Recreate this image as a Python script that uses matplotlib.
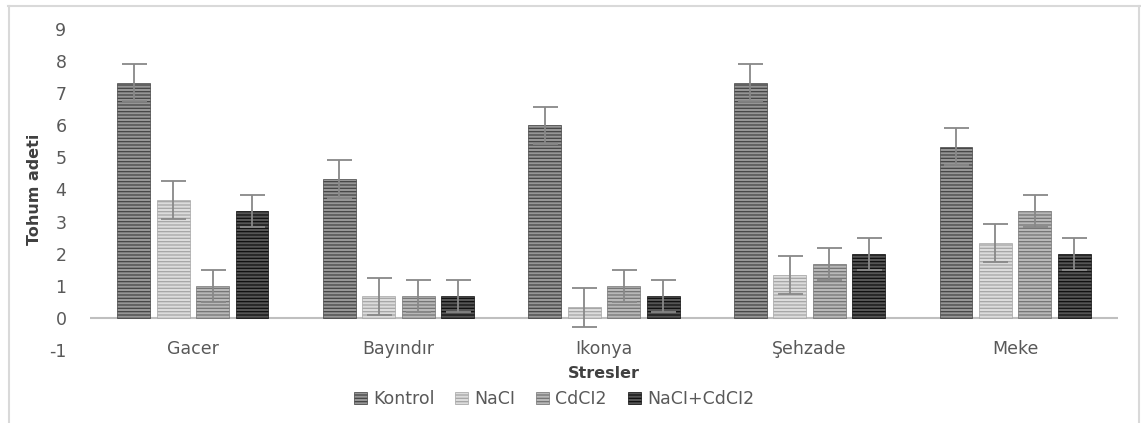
import numpy as np
import matplotlib.pyplot as plt
from matplotlib.lines import Line2D

# ==========================================
# Data
# ==========================================

categories = ["Gacer", "Bayındır", "Ikonya", "Şehzade", "Meke"]
series = ["Kontrol", "NaCI", "CdCI2", "NaCI+CdCI2"]

kontrol = [7.33, 4.33, 6.0, 7.33, 5.33]
nacl = [3.67, 0.67, 0.33, 1.33, 2.33]
cdcl2 = [1.0, 0.67, 1.0, 1.67, 3.33]
mix = [3.33, 0.67, 0.67, 2.0, 2.0]

err_kontrol = [0.58, 0.58, 0.58, 0.58, 0.58]
err_nacl = [0.6, 0.58, 0.6, 0.6, 0.6]
err_cdcl2 = [0.5, 0.5, 0.5, 0.5, 0.5]
err_mix = [0.5, 0.5, 0.5, 0.5, 0.5]

values = [kontrol, nacl, cdcl2, mix]
errors = [err_kontrol, err_nacl, err_cdcl2, err_mix]

# face colour, stripe colour
faces = ["#969696", "#dcdcdc", "#b8b8b8", "#555555"]
stripes = ["#444444", "#a5a5a5", "#747474", "#0f0f0f"]

plt.rcParams['font.family'] = ['DejaVu Sans']
plt.rcParams['axes.unicode_minus'] = False
plt.rcParams['hatch.linewidth'] = 0.9

# ==========================================
# Figure
# ==========================================

fig = plt.figure(figsize=(11.41, 4.23), dpi=100)
ax = fig.add_axes([90 / 1141, 1 - 350 / 423, 1028 / 1141, 321 / 423])

x = np.arange(len(categories))
pitch = 0.192
width = 0.16

for i in range(len(series)):
    pos = x + (i - 1.5) * pitch
    ax.bar(
        pos,
        values[i],
        width,
        color=faces[i],
        edgecolor=stripes[i],
        hatch="-----",
        linewidth=0.5,
        label=series[i],
        zorder=2
    )
    ax.errorbar(
        pos,
        values[i],
        yerr=errors[i],
        fmt="none",
        ecolor="#888888",
        elinewidth=1.3,
        capsize=9,
        capthick=1.3,
        zorder=3
    )

ax.set_xlim(-0.5, len(categories) - 0.5)
ax.set_ylim(-1, 9)
ax.set_yticks(range(-1, 10))
ax.axhline(0, color="#bfbfbf", linewidth=1.5, zorder=1)

for s in ax.spines.values():
    s.set_visible(False)

ax.tick_params(axis="both", length=0, colors="#595959", labelsize=12.5)
ax.tick_params(axis="y", pad=17)
ax.set_xticks(x)
ax.set_xticklabels(categories)
ax.tick_params(axis="x", pad=-7.5)

ax.set_ylabel("Tohum adeti", fontsize=11.5, fontweight="bold", color="#404040", labelpad=5)

fig.text(604 / 1141, 1 - 373 / 423, "Stresler", ha="center", va="center",
         fontsize=11.5, fontweight="bold", color="#404040")

ax.legend(
    loc="center",
    bbox_to_anchor=(554 / 1141, 1 - 399 / 423),
    bbox_transform=fig.transFigure,
    ncol=4,
    frameon=False,
    fontsize=12.5,
    handlelength=0.75,
    handleheight=0.75,
    handletextpad=0.35,
    columnspacing=1.2,
    labelcolor="#595959",
    borderpad=0
)

# outer chart border
for coords in [([8 / 1141, 1140 / 1141], [1 - 6 / 423, 1 - 6 / 423]),
               ([9 / 1141, 9 / 1141], [0, 1 - 6 / 423]),
               ([1139 / 1141, 1139 / 1141], [0, 1 - 6 / 423])]:
    fig.add_artist(Line2D(coords[0], coords[1], color="#d9d9d9", linewidth=1.5))

fig.savefig("out.png", dpi=100)
